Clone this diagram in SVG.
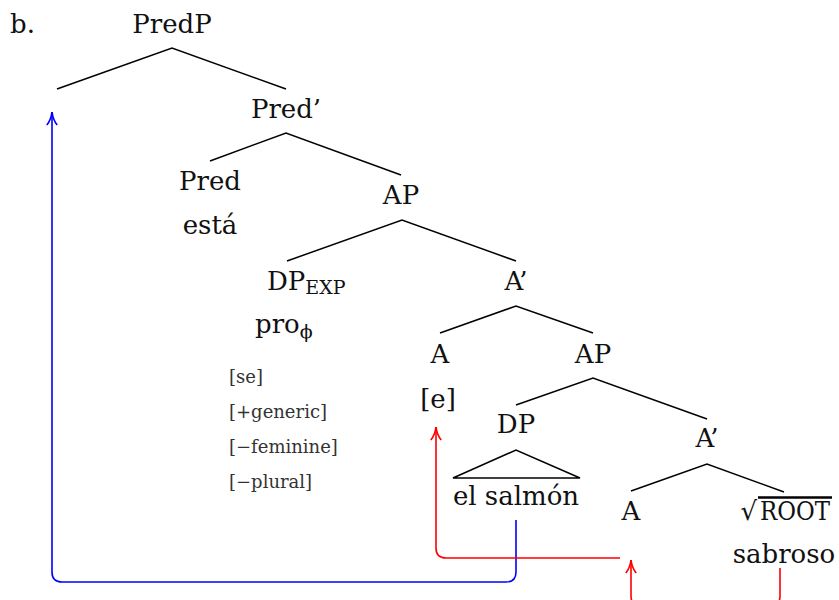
<svg xmlns="http://www.w3.org/2000/svg" width="839" height="600" viewBox="0 0 839 600">
<style>
.t{font-family:"DejaVu Serif","Liberation Serif",serif;font-size:26px;fill:#111;text-anchor:middle}
.f{font-family:"DejaVu Serif","Liberation Serif",serif;font-size:18px;fill:#333}
.e{stroke:#000;stroke-width:1.5;fill:none}
.blue{stroke:#0000ff;stroke-width:1.6;fill:none}
.red{stroke:#ff0000;stroke-width:1.6;fill:none}
</style>
<defs>
<marker id="ab" viewBox="0 0 12 15" markerWidth="12" markerHeight="15" refX="6" refY="1" orient="0" markerUnits="userSpaceOnUse">
<path d="M0.8,14 Q5,9 6,1 Q7,9 11.2,14" fill="none" stroke="#0000ff" stroke-width="1.7"/>
</marker>
<marker id="ar" viewBox="0 0 12 15" markerWidth="12" markerHeight="15" refX="6" refY="1" orient="0" markerUnits="userSpaceOnUse">
<path d="M0.8,14 Q5,9 6,1 Q7,9 11.2,14" fill="none" stroke="#ff0000" stroke-width="1.7"/>
</marker>
</defs>
<text x="10" y="33" class="t" style="text-anchor:start">b.</text>
<g id="PredP"><text x="172" y="33" class="t">PredP</text></g>
<g id="PredBar"><text x="286" y="118" class="t">Pred’</text></g>
<g id="Pred"><text x="210" y="190" class="t">Pred</text><text x="210" y="234" class="t">está</text></g>
<g id="AP1"><text x="401" y="204" class="t">AP</text></g>
<g id="DPEXP"><text x="267" y="290" class="t" style="text-anchor:start">DP<tspan font-size="19" dy="4">EXP</tspan></text>
<text x="255" y="333" class="t" style="text-anchor:start">pro<tspan font-size="19" dy="5">ϕ</tspan></text>
<text x="229" y="383" class="f">[se]</text>
<text x="229" y="418" class="f">[+generic]</text>
<text x="229" y="453" class="f">[−feminine]</text>
<text x="229" y="488" class="f">[−plural]</text></g>
<g id="ABar1"><text x="516" y="290" class="t">A’</text></g>
<g id="A1"><text x="440" y="363" class="t">A</text><text x="438" y="408" class="t">[e]</text></g>
<g id="AP2"><text x="593" y="363" class="t">AP</text></g>
<g id="DP"><text x="516" y="433" class="t">DP</text>
<path class="e" d="M453,478 L516,450 L580,478 Z"/>
<text x="516" y="505" class="t">el salmón</text></g>
<g id="ABar2"><text x="707" y="447" class="t">A’</text></g>
<g id="A2"><text x="631" y="520" class="t">A</text></g>
<g id="ROOT"><text x="757" y="520" class="t" font-size="21" style="text-anchor:end">√</text>
<line x1="758" y1="497.5" x2="832" y2="497.5" stroke="#000" stroke-width="2.4"/>
<text x="760" y="520" class="t" font-size="19" style="text-anchor:start" textLength="70" lengthAdjust="spacingAndGlyphs">ROOT</text>
<text x="784" y="563" class="t">sabroso</text></g>
<g id="edges" class="e">
<path class="e" d="M57,89 L172,48 L286,89"/>
<path class="e" d="M210,161 L286,133 L401,175"/>
<path class="e" d="M287,261 L402,220 L516,261"/>
<path class="e" d="M440,333 L516,306 L593,333"/>
<path class="e" d="M516,405 L593,378 L707,419"/>
<path class="e" d="M631,491 L707,464 L784,492"/>
</g>
<g id="connectors">
<path class="blue" d="M516,520 V572 Q516,582 506,582 H62 Q52,582 52,572 V112" marker-end="url(#ab)"/>
<path class="red" d="M620,558 H446 Q436,558 436,548 V427" marker-end="url(#ar)"/>
<path class="red" d="M780,568 V596 Q780,606 770,606 H641 Q631,606 631,596 V560" marker-end="url(#ar)"/>
</g>
</svg>
